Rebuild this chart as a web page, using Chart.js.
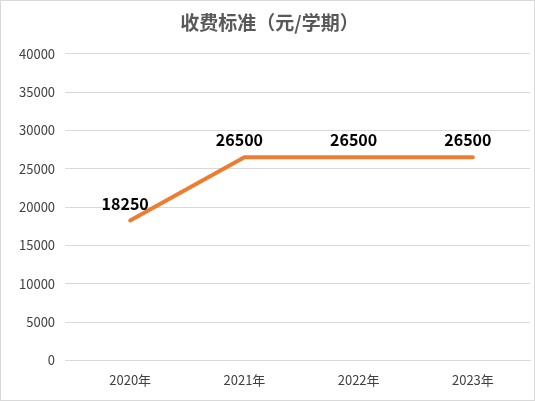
<!DOCTYPE html>
<html><head><meta charset="utf-8">
<script src="https://cdn.jsdelivr.net/npm/chart.js@4"></script>
<style>body{margin:0;background:#fff}#w{width:533px;height:399px;border:1px solid #d9d9d9}</style>
</head><body><div id="w"><canvas id="c"></canvas></div>
<script>
const categories = ["2020年","2021年","2022年","2023年"];
const fees = [18250,26500,26500,26500];
const yTicks = [0,5000,10000,15000,20000,25000,30000,35000,40000];
const labelPlugin = {id:'lbl',afterDatasetsDraw(ch){
  const ctx=ch.ctx, meta=ch.getDatasetMeta(0);
  ctx.save();ctx.font='bold 16px "Microsoft YaHei","Noto Sans CJK SC",sans-serif';
  ctx.fillStyle='#000';ctx.textAlign='center';ctx.textBaseline='bottom';
  meta.data.forEach((p,i)=>{ctx.fillText(String(fees[i]),p.x-5,p.y-9);});
  ctx.restore();}};
new Chart(document.getElementById('c'),{type:'line',
 data:{labels:categories,datasets:[{data:fees,borderColor:'#ED7D31',borderWidth:4,pointRadius:0,tension:0,borderCapStyle:'round'}]},
 options:{responsive:true,maintainAspectRatio:false,animation:false,
  layout:{padding:{left:8,right:4,top:4,bottom:8}},
  plugins:{legend:{display:false},tooltip:{enabled:false},
   title:{display:true,text:'收费标准（元/学期）',color:'#595959',font:{size:19,weight:'bold',family:'"Noto Sans CJK SC",sans-serif'},padding:{top:6,bottom:20}}},
  scales:{
   x:{offset:true,grid:{display:false},border:{color:'#d9d9d9'},ticks:{color:'#404040',padding:4,font:{size:13,family:'"Noto Sans CJK SC",sans-serif'}}},
   y:{min:0,max:40000,afterBuildTicks(s){s.ticks=yTicks.map(v=>({value:v}));},
      grid:{color:'#d9d9d9'},border:{display:false},
      ticks:{color:'#404040',padding:10,callback:v=>String(v),font:{size:13,family:'"Noto Sans CJK SC",sans-serif'}}}}}
 ,plugins:[labelPlugin]});
</script></body></html>
